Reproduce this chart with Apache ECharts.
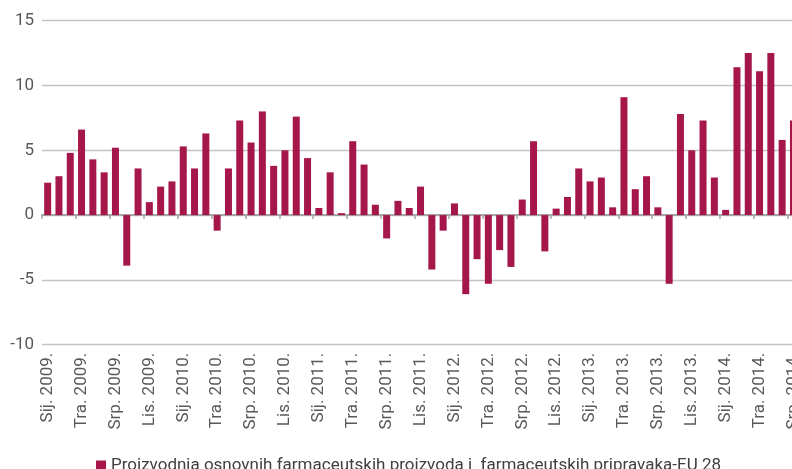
<!DOCTYPE html>
<html>
<head>
<meta charset="utf-8">
<script src="https://cdn.jsdelivr.net/npm/echarts@6/dist/echarts.min.js"></script>
<style>
html,body{margin:0;padding:0;background:#fff;overflow:hidden;width:792px;height:469px;}
#chart{width:810px;height:469px;}
</style>
</head>
<body>
<div id="chart"></div>
<script>
const categories = [
  "Sij. 2009.","Velj. 2009.","Ožu. 2009.","Tra. 2009.","Svi. 2009.","Lip. 2009.","Srp. 2009.","Kol. 2009.","Ruj. 2009.","Lis. 2009.","Stu. 2009.","Pro. 2009.",
  "Sij. 2010.","Velj. 2010.","Ožu. 2010.","Tra. 2010.","Svi. 2010.","Lip. 2010.","Srp. 2010.","Kol. 2010.","Ruj. 2010.","Lis. 2010.","Stu. 2010.","Pro. 2010.",
  "Sij. 2011.","Velj. 2011.","Ožu. 2011.","Tra. 2011.","Svi. 2011.","Lip. 2011.","Srp. 2011.","Kol. 2011.","Ruj. 2011.","Lis. 2011.","Stu. 2011.","Pro. 2011.",
  "Sij. 2012.","Velj. 2012.","Ožu. 2012.","Tra. 2012.","Svi. 2012.","Lip. 2012.","Srp. 2012.","Kol. 2012.","Ruj. 2012.","Lis. 2012.","Stu. 2012.","Pro. 2012.",
  "Sij. 2013.","Velj. 2013.","Ožu. 2013.","Tra. 2013.","Svi. 2013.","Lip. 2013.","Srp. 2013.","Kol. 2013.","Ruj. 2013.","Lis. 2013.","Stu. 2013.","Pro. 2013.",
  "Sij. 2014.","Velj. 2014.","Ožu. 2014.","Tra. 2014.","Svi. 2014.","Lip. 2014.","Srp. 2014."
];
const seriesName = "Proizvodnja osnovnih farmaceutskih proizvoda i  farmaceutskih pripravaka-EU 28";
const values = [
  2.5, 3.0, 4.8, 6.6, 4.3, 3.3, 5.2, -3.9, 3.6, 1.0, 2.2, 2.6,
  5.3, 3.6, 6.3, -1.2, 3.6, 7.3, 5.6, 8.0, 3.8, 5.0, 7.6, 4.4,
  0.55, 3.3, 0.15, 5.7, 3.9, 0.8, -1.8, 1.1, 0.55, 2.2, -4.2, -1.2,
  0.9, -6.1, -3.4, -5.3, -2.7, -4.0, 1.2, 5.7, -2.8, 0.5, 1.4, 3.6,
  2.6, 2.9, 0.6, 9.1, 2.0, 3.0, 0.6, -5.3, 7.8, 5.0, 7.3, 2.9,
  0.4, 11.4, 12.5, 11.1, 12.5, 5.8, 7.3
];
const yTicks = { min: -10, max: 15, interval: 5 };

const FONT = "Roboto";
const TEXT = "#595959";
const chart = echarts.init(document.getElementById('chart'), null, {renderer:'canvas', width: 810, height: 469});
chart.setOption({
  animation: false,
  backgroundColor: '#ffffff',
  textStyle: { fontFamily: FONT },
  grid: { left: 42, top: 20.7, width: 67 * 11.3, height: 324, containLabel: false },
  legend: {
    data: [seriesName],
    left: 91, top: 452,
    icon: 'rect', itemWidth: 10, itemHeight: 10,
    textStyle: { fontFamily: FONT, fontSize: 17, color: '#404040' }
  },
  xAxis: [
    {
      type: 'category', data: categories, position: 'bottom',
      axisLine: { show: false, onZero: false },
      axisTick: { show: false },
      axisLabel: { interval: 2, rotate: 90, margin: 8, fontSize: 17, color: TEXT, fontFamily: FONT }
    },
    {
      type: 'category', data: categories, position: 'bottom',
      axisLine: { show: true, onZero: true, lineStyle: { color: '#a6a6a6', width: 2 } },
      axisTick: { show: true, interval: 2, length: 4, lineStyle: { color: '#a6a6a6', width: 1.5 } },
      axisLabel: { show: false }
    }
  ],
  yAxis: {
    type: 'value', min: yTicks.min, max: yTicks.max, interval: yTicks.interval,
    axisLine: { show: false }, axisTick: { show: false },
    axisLabel: { fontSize: 17, color: TEXT, margin: 8, fontFamily: FONT },
    splitLine: { lineStyle: { color: '#c4c4c4', width: 1.3 } }
  },
  series: [{
    name: seriesName, type: 'bar', xAxisIndex: 0, data: values,
    barWidth: 7,
    itemStyle: { color: '#a5164b' }
  }]
});
</script>
</body>
</html>
